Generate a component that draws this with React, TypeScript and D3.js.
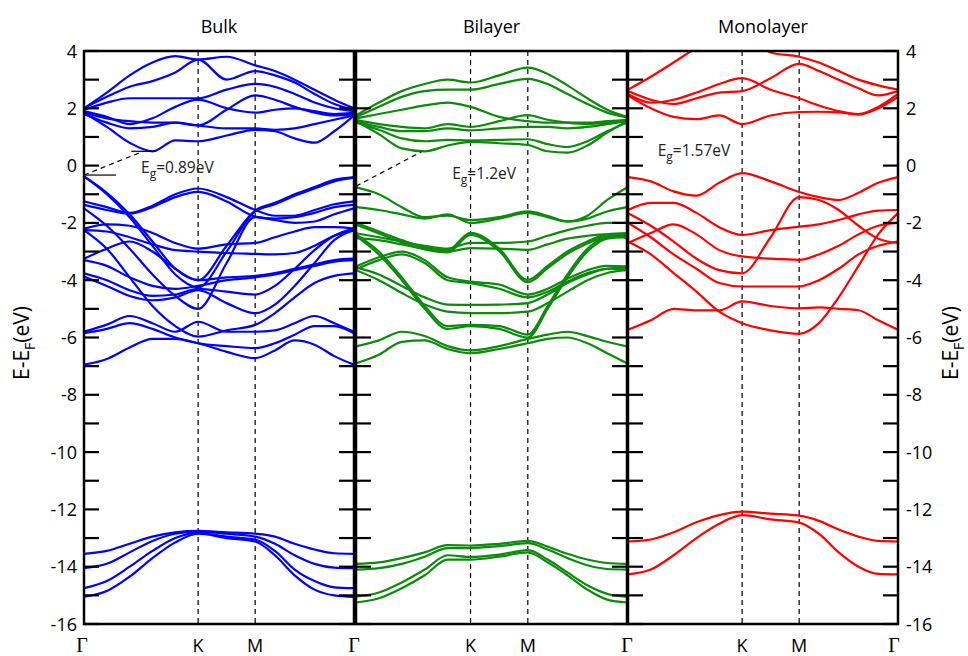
import React from "react";
import * as d3 from "d3";

// k-path sample points (Γ=0, K=1, M=1.5, Γ=2.366)
const kPoints = [0, 0.2, 0.4, 0.6, 0.8, 1.0, 1.25, 1.5, 1.673, 1.846, 2.02, 2.193, 2.366];
const kTickPositions = [0, 1, 1.5, 2.366];
const kTickLabels = ["Γ", "K", "M", "Γ"];
const yTickValues = d3.range(-16, 5, 1);
const yLabelValues = d3.range(-16, 5, 2);
const panelTitles = ["Bulk", "Bilayer", "Monolayer"];
const panelColors = ["#0000ff", "#0c8a0c", "#ff0000"];
const gapLabels = ["=0.89eV", "=1.2eV", "=1.57eV"];

// ---- Bulk ----
const bulkConduction = [
  [2.0, 2.55, 3.15, 3.6, 3.82, 3.7, 3.8, 3.5, 3.3, 3.0, 2.65, 2.3, 2.0],
  [2.0, 2.4, 2.75, 2.95, 3.25, 3.7, 3.0, 3.3, 3.15, 2.9, 2.5, 2.15, 1.95],
  [1.95, 2.2, 2.35, 2.35, 2.35, 2.35, 2.65, 2.85, 2.75, 2.5, 2.2, 2.0, 1.9],
  [1.9, 1.7, 1.45, 1.65, 2.05, 2.3, 2.0, 1.85, 1.95, 2.0, 1.9, 1.8, 1.85],
  [1.85, 1.65, 1.55, 1.5, 1.5, 1.4, 1.95, 2.45, 2.3, 2.05, 1.85, 1.75, 1.8],
  [1.8, 1.5, 1.3, 1.35, 1.5, 1.4, 1.3, 1.3, 1.25, 1.3, 1.45, 1.6, 1.75],
  [1.85, 1.35, 0.8, 0.5, 0.88, 0.85, 1.05, 1.25, 1.2, 0.95, 0.8, 1.2, 1.75],
];
const bulkValence = [
  [-0.38, -0.95, -1.7, -2.65, -3.6, -4.0, -2.8, -1.57, -1.3, -1.0, -0.75, -0.5, -0.4],
  [-0.38, -1.0, -1.8, -2.8, -3.8, -4.25, -3.0, -1.6, -1.35, -1.05, -0.8, -0.55, -0.42],
  [-1.25, -1.45, -1.65, -1.4, -1.0, -0.8, -1.1, -1.55, -1.75, -1.75, -1.55, -1.35, -1.25],
  [-1.37, -1.55, -1.68, -1.45, -1.1, -0.92, -1.25, -1.78, -1.85, -1.8, -1.65, -1.45, -1.37],
  [-1.49, -2.1, -2.9, -3.8, -4.55, -5.0, -3.4, -1.8, -1.9, -2.0, -1.95, -1.7, -1.49],
  [-2.2, -2.05, -2.1, -2.35, -2.7, -2.9, -2.75, -2.7, -2.5, -2.3, -2.15, -2.15, -2.2],
  [-2.25, -2.3, -2.5, -2.75, -2.95, -3.0, -3.05, -3.08, -3.1, -3.05, -2.8, -2.45, -2.25],
  [-3.25, -2.9, -2.65, -3.0, -3.6, -4.0, -3.9, -3.85, -3.75, -3.6, -3.45, -3.3, -3.25],
  [-3.3, -3.5, -3.9, -4.2, -4.3, -4.2, -4.0, -3.9, -3.8, -3.65, -3.5, -3.35, -3.3],
  [-2.25, -2.9, -3.9, -4.9, -5.6, -5.97, -5.75, -5.56, -5.15, -4.6, -4.1, -3.85, -3.76],
  [-3.76, -4.0, -4.35, -4.55, -4.5, -4.3, -4.4, -4.5, -4.2, -3.6, -2.95, -2.45, -2.2],
  [-3.87, -4.2, -4.55, -4.7, -4.6, -4.35, -4.8, -5.15, -4.85, -4.2, -3.4, -2.6, -2.25],
  [-5.8, -5.55, -5.25, -5.5, -5.8, -5.45, -5.8, -5.8, -5.75, -5.5, -5.25, -5.5, -5.8],
  [-5.85, -5.7, -5.5, -5.7, -6.0, -6.2, -6.3, -6.37, -6.2, -5.9, -5.6, -5.6, -5.85],
  [-6.95, -6.75, -6.35, -6.05, -6.05, -6.2, -6.5, -6.72, -6.45, -6.1, -6.25, -6.65, -6.95],
];
const bulkSemicore = [
  [-13.55, -13.45, -13.2, -12.95, -12.8, -12.75, -12.8, -12.85, -12.95, -13.2, -13.4, -13.53, -13.55],
  [-14.05, -13.9, -13.5, -13.1, -12.85, -12.78, -12.85, -12.95, -13.2, -13.6, -13.9, -14.03, -14.05],
  [-14.75, -14.5, -14.0, -13.45, -13.0, -12.82, -12.95, -13.05, -13.45, -14.1, -14.5, -14.72, -14.75],
  [-15.05, -14.85, -14.35, -13.7, -13.15, -12.85, -13.0, -13.12, -13.6, -14.3, -14.8, -15.0, -15.05],
];

// ---- Bilayer ----
const bilayerConduction = [
  [1.75, 2.2, 2.6, 2.85, 3.0, 2.9, 3.15, 3.42, 3.2, 2.8, 2.35, 1.95, 1.7],
  [1.7, 2.05, 2.4, 2.6, 2.65, 2.65, 2.85, 3.03, 2.85, 2.5, 2.15, 1.85, 1.68],
  [1.65, 1.8, 1.95, 2.1, 2.2, 2.05, 1.7, 1.55, 1.5, 1.5, 1.5, 1.55, 1.6],
  [1.6, 1.45, 1.35, 1.3, 1.45, 1.35, 1.55, 1.76, 1.6, 1.5, 1.45, 1.5, 1.6],
  [1.55, 1.35, 1.2, 1.2, 1.3, 1.23, 1.3, 1.35, 1.35, 1.3, 1.35, 1.45, 1.55],
  [1.5, 1.25, 0.95, 0.85, 0.9, 0.88, 0.9, 0.92, 0.75, 0.65, 0.85, 1.2, 1.5],
  [1.55, 1.1, 0.6, 0.5, 0.7, 0.83, 0.78, 0.72, 0.5, 0.45, 0.7, 1.15, 1.55],
];
const bilayerValence = [
  [-0.76, -1.0, -1.45, -1.8, -1.75, -1.9, -1.8, -1.6, -1.75, -1.95, -1.75, -1.2, -0.76],
  [-1.45, -1.55, -1.7, -1.85, -1.7, -2.0, -1.85, -1.65, -1.8, -1.95, -1.85, -1.6, -1.45],
  [-2.0, -2.3, -2.6, -2.85, -2.95, -2.35, -2.9, -3.99, -3.5, -3.0, -2.65, -2.4, -2.36],
  [-2.06, -2.37, -2.68, -2.93, -3.03, -2.42, -2.98, -4.07, -3.58, -3.08, -2.72, -2.47, -2.42],
  [-2.36, -2.5, -2.65, -2.8, -2.9, -2.7, -2.7, -2.65, -2.45, -2.25, -2.1, -2.0, -2.0],
  [-2.53, -2.6, -2.75, -2.9, -3.0, -2.88, -2.9, -2.94, -2.75, -2.55, -2.45, -2.4, -2.53],
  [-3.52, -3.2, -3.0, -3.3, -3.9, -4.05, -4.15, -4.5, -4.3, -3.95, -3.65, -3.5, -3.52],
  [-3.62, -3.3, -3.1, -3.4, -4.0, -4.1, -4.3, -4.6, -4.4, -4.05, -3.75, -3.6, -3.62],
  [-2.4, -3.0, -3.9, -4.9, -5.6, -5.56, -5.6, -5.9, -4.9, -3.8, -2.9, -2.5, -2.45],
  [-2.45, -3.1, -4.0, -5.0, -5.7, -5.6, -5.7, -6.0, -5.0, -3.9, -3.0, -2.55, -2.5],
  [-3.55, -3.8, -4.2, -4.6, -4.85, -4.86, -4.85, -4.8, -4.5, -4.1, -3.8, -3.6, -3.55],
  [-3.65, -4.0, -4.45, -4.85, -5.1, -5.15, -5.15, -5.1, -4.8, -4.4, -4.0, -3.75, -3.65],
  [-6.31, -6.1, -5.8, -5.95, -6.3, -6.45, -6.3, -6.05, -5.9, -5.8, -5.95, -6.15, -6.31],
  [-6.9, -6.6, -6.15, -6.1, -6.4, -6.55, -6.4, -6.2, -6.05, -6.0, -6.2, -6.55, -6.9],
];
const bilayerSemicore = [
  [-13.9, -13.85, -13.7, -13.5, -13.25, -13.26, -13.2, -13.1, -13.3, -13.55, -13.75, -13.87, -13.9],
  [-14.1, -14.05, -13.9, -13.65, -13.35, -13.35, -13.28, -13.18, -13.4, -13.7, -13.95, -14.08, -14.1],
  [-15.05, -14.9, -14.55, -14.1, -13.6, -13.66, -13.58, -13.42, -13.75, -14.2, -14.65, -14.95, -15.05],
  [-15.25, -15.1, -14.75, -14.3, -13.75, -13.75, -13.65, -13.5, -13.85, -14.3, -14.8, -15.15, -15.25],
];

// ---- Monolayer ----
const monolayerConduction = [
  [2.65, 3.1, 3.6, 4.1, 4.4, 4.5, 3.95, 3.8, 3.6, 3.3, 3.0, 2.8, 2.65],
  [2.6, 2.3, 2.15, 2.35, 2.55, 2.6, 3.05, 3.55, 3.3, 3.0, 2.7, 2.45, 2.6],
  [2.5, 2.2, 2.3, 2.55, 2.85, 3.05, 2.65, 2.35, 2.1, 1.9, 1.8, 2.05, 2.5],
  [2.45, 2.0, 1.7, 1.62, 1.75, 1.45, 1.75, 1.87, 1.88, 1.86, 1.78, 2.0, 2.4],
];
const monolayerValence = [
  [-0.4, -0.55, -0.9, -1.05, -0.6, -0.26, -0.55, -0.92, -1.1, -1.2, -0.95, -0.6, -0.4],
  [-1.55, -1.3, -1.3, -1.65, -2.15, -2.42, -2.25, -2.13, -2.05, -1.9, -1.7, -1.57, -1.55],
  [-1.66, -2.1, -2.65, -3.25, -3.65, -3.76, -2.5, -1.1, -1.2, -1.55, -2.1, -2.55, -2.7],
  [-2.7, -2.35, -2.05, -2.4, -2.95, -3.17, -3.25, -3.29, -3.1, -2.8, -2.4, -2.1, -2.0],
  [-2.0, -2.5, -3.1, -3.6, -4.1, -4.22, -4.22, -4.22, -4.0, -3.6, -3.1, -2.8, -2.65],
  [-2.65, -3.1, -3.75, -4.4, -5.1, -5.5, -5.75, -5.87, -5.5, -4.6, -3.5, -2.4, -1.66],
  [-5.73, -5.4, -5.0, -5.05, -5.05, -4.74, -4.9, -4.98, -4.95, -5.0, -5.05, -5.4, -5.73],
];
const monolayerSemicore = [
  [-13.12, -13.05, -12.8, -12.45, -12.2, -12.08, -12.15, -12.22, -12.4, -12.7, -12.95, -13.1, -13.12],
  [-14.27, -14.1, -13.6, -13.0, -12.5, -12.2, -12.35, -12.46, -12.85, -13.5, -14.0, -14.25, -14.27],
];

// gap annotations: [k, E] of VBM and CBM, label anchor [k, E]
const bulkGapVBM = [0, -0.33];
const bulkGapCBM = [0.52, 0.5];
const bulkGapLabel = [0.5, -0.26];
const bilayerGapVBM = [0, -0.72];
const bilayerGapCBM = [0.57, 0.48];
const bilayerGapLabel = [0.84, -0.47];
const monolayerGapLabel = [0.26, 0.33];

const W = 968;
const H = 656;
const panelBoxes = [
  [84, 354],
  [356, 627],
  [628, 898],
];
const yTop = 51;
const yBottom = 624;

export default function App() {
  const y = d3.scaleLinear().domain([-16, 4]).range([yBottom, yTop]);
  const bands = [
    [...bulkConduction, ...bulkValence, ...bulkSemicore],
    [...bilayerConduction, ...bilayerValence, ...bilayerSemicore],
    [...monolayerConduction, ...monolayerValence, ...monolayerSemicore],
  ];
  const gaps = [
    { vbm: bulkGapVBM, cbm: bulkGapCBM, label: bulkGapLabel, marks: true },
    { vbm: bilayerGapVBM, cbm: bilayerGapCBM, label: bilayerGapLabel, marks: false },
    { vbm: null, cbm: null, label: monolayerGapLabel, marks: false },
  ];
  const font = "'Open Sans', 'Noto Sans', sans-serif";

  return (
    <svg
      width={W}
      height={H}
      viewBox={`0 0 ${W} ${H}`}
      style={{ position: "absolute", left: 0, top: 0, background: "#fff" }}
    >
      <defs>
        {panelBoxes.map(([x0, x1], i) => (
          <clipPath id={`clip${i}`} key={i}>
            <rect x={x0} y={yTop} width={x1 - x0} height={yBottom - yTop} />
          </clipPath>
        ))}
      </defs>
      {panelBoxes.map(([x0, x1], i) => {
        const x = d3.scaleLinear().domain([0, 2.366]).range([x0, x1]);
        const line = d3
          .line<number>()
          .x((_, j) => x(kPoints[j]))
          .y((d) => y(d))
          .curve(d3.curveMonotoneX);
        const g = gaps[i];
        return (
          <g key={i}>
            {kTickPositions.slice(1, 3).map((k) => (
              <line
                key={k}
                x1={x(k)}
                x2={x(k)}
                y1={yTop}
                y2={yBottom}
                stroke="#000"
                strokeWidth={1.2}
                strokeDasharray="5,4"
              />
            ))}
            <g clipPath={`url(#clip${i})`}>
              {bands[i].map((b, j) => (
                <path
                  key={j}
                  d={line(b) || ""}
                  fill="none"
                  stroke={panelColors[i]}
                  strokeWidth={2.2}
                />
              ))}
            </g>
            {g.vbm && g.cbm && (
              <line
                x1={x(g.vbm[0])}
                y1={y(g.vbm[1])}
                x2={x(g.cbm[0])}
                y2={y(g.cbm[1])}
                stroke="#000"
                strokeWidth={1.2}
                strokeDasharray="5,4"
              />
            )}
            {g.marks && g.vbm && g.cbm && (
              <>
                <line x1={x(g.vbm[0])} x2={x(g.vbm[0]) + 32} y1={y(g.vbm[1])} y2={y(g.vbm[1])} stroke="#000" strokeWidth={1.2} />
                <line x1={x(g.cbm[0]) - 12} x2={x(g.cbm[0]) + 13} y1={y(g.cbm[1])} y2={y(g.cbm[1])} stroke="#000" strokeWidth={1.2} />
              </>
            )}
            <text
              x={x(g.label[0])}
              y={y(g.label[1])}
              fontFamily={font}
              fontSize={15.5}
              fill="#222"
            >
              E<tspan dy={5} fontSize={12}>g</tspan>
              <tspan dy={-5}>{gapLabels[i]}</tspan>
            </text>
            <rect
              x={x0}
              y={yTop}
              width={x1 - x0}
              height={yBottom - yTop}
              fill="none"
              stroke="#000"
              strokeWidth={2.5}
            />
            {yTickValues.map((v) => (
              <g key={v}>
                <line x1={x0} x2={x0 + 15} y1={y(v)} y2={y(v)} stroke="#000" strokeWidth={2.2} />
                <line x1={x1 - 15} x2={x1} y1={y(v)} y2={y(v)} stroke="#000" strokeWidth={2.2} />
              </g>
            ))}
            <text
              x={(x0 + x1) / 2}
              y={33}
              textAnchor="middle"
              fontFamily={font}
              fontSize={18}
              fill="#000"
            >
              {panelTitles[i]}
            </text>
            {kTickPositions.map((k, j) =>
              i > 0 && j === 0 ? null : (
                <text
                  key={j}
                  x={j === 3 && i === 2 ? x(k) - 4 : x(k) - (j === 0 ? 2 : 0)}
                  y={652}
                  textAnchor="middle"
                  fontFamily={kTickLabels[j] === "Γ" ? "'Liberation Serif', 'DejaVu Serif', serif" : font}
                  fontSize={kTickLabels[j] === "Γ" ? 20 : 18}
                  fill="#000"
                >
                  {kTickLabels[j]}
                </text>
              )
            )}
          </g>
        );
      })}
      {yLabelValues.map((v) => (
        <g key={v}>
          <text x={77} y={y(v) + 6.5} textAnchor="end" fontFamily={font} fontSize={18} fill="#000">
            {v}
          </text>
          <text x={906} y={y(v) + 6.5} textAnchor="start" fontFamily={font} fontSize={18} fill="#000">
            {v}
          </text>
        </g>
      ))}
      {[29, 958].map((xx, i) => (
        <text
          key={i}
          transform={`translate(${xx},343) rotate(-90)`}
          textAnchor="middle"
          fontFamily={font}
          fontSize={21}
          fill="#000"
        >
          E-E<tspan dy={6} fontSize={14}>F</tspan>
          <tspan dy={-6}>(eV)</tspan>
        </text>
      ))}
    </svg>
  );
}
